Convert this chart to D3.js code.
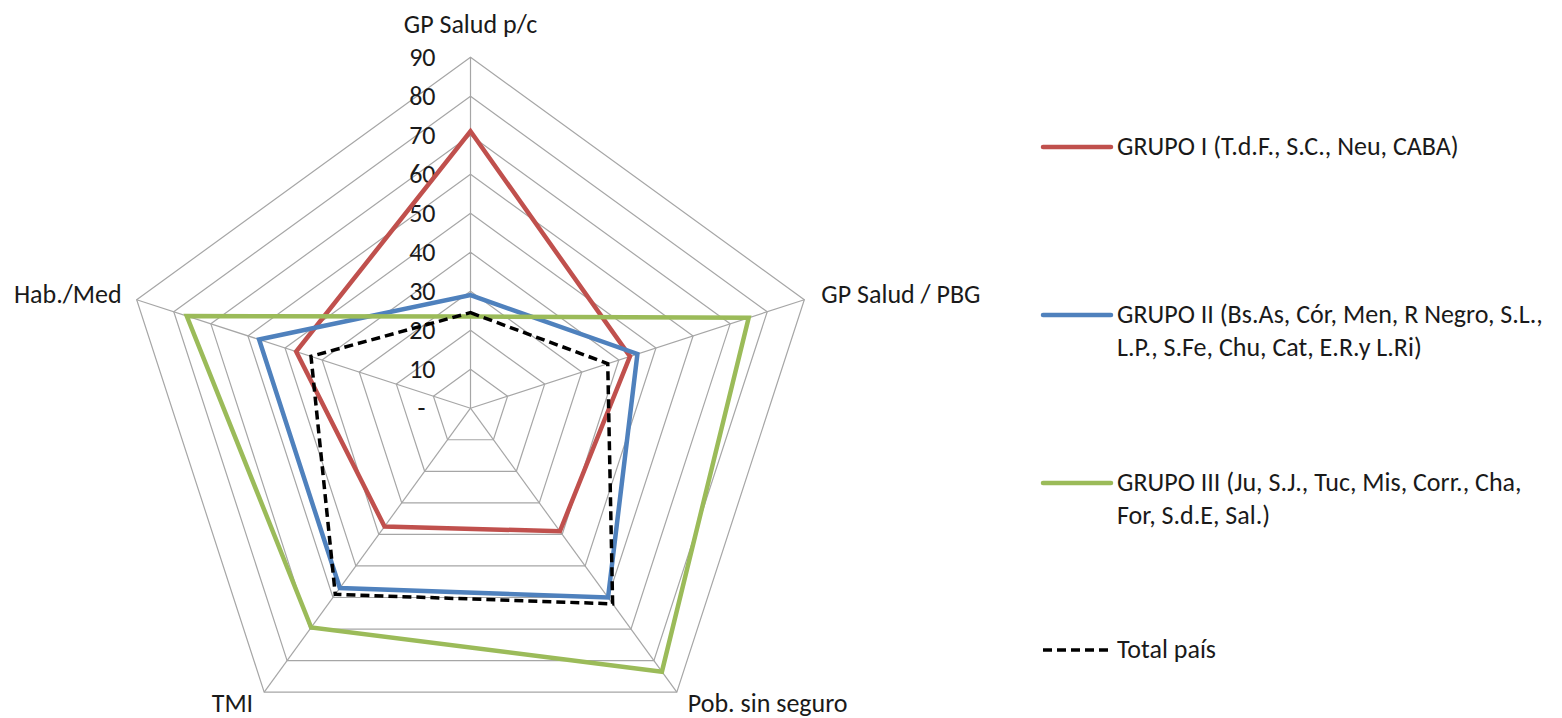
<!DOCTYPE html>
<html>
<head>
<meta charset="utf-8">
<script src="https://cdn.jsdelivr.net/npm/d3@7"></script>
<style>
  body { margin: 0; background: #fff; }
  svg text { font-family: Carlito, Calibri, "Open Sans", sans-serif; fill: #1a1a1a; }
</style>
</head>
<body>
<div id="chart"></div>
<script>
// Axis names (clockwise from top)
const axes = ['GP Salud p/c', 'GP Salud / PBG', 'Pob. sin seguro', 'TMI', 'Hab./Med'];

// Series values, one per axis
const grupoI   = [71, 43, 39, 37.5, 47];
const grupoII  = [29, 45, 60, 57, 57];
const grupoIII = [23.5, 75, 83.5, 69.5, 76.5];
const totalPais = [24.5, 37, 62, 59, 43];

const ticks = [0, 10, 20, 30, 40, 50, 60, 70, 80, 90];
const tickLabels = ['-', '10', '20', '30', '40', '50', '60', '70', '80', '90'];

const seriesNames = [
  ['GRUPO I (T.d.F., S.C., Neu, CABA)'],
  ['GRUPO II (Bs.As, Cór, Men, R Negro, S.L.,', 'L.P., S.Fe, Chu, Cat, E.R.y L.Ri)'],
  ['GRUPO III (Ju, S.J., Tuc, Mis, Corr., Cha,', 'For, S.d.E, Sal.)'],
  ['Total país']
];
const seriesValues = [grupoI, grupoII, grupoIII, totalPais];
const seriesColors = ['#c0504d', '#4f81bd', '#9bbb59', '#000000'];

const width = 1562;
const height = 718;
const cx = 470.5;
const cy = 408.2;
const radius = 351;
const fontSize = '26px';

d3.select('#chart').selectAll('*').remove();

const svg = d3.select('#chart')
  .append('svg')
  .attr('width', width)
  .attr('height', height);

const rScale = d3.scaleLinear()
  .domain([0, 90])
  .range([0, radius]);

const angleScale = d3.scalePoint()
  .domain(axes)
  .range([0, 2 * Math.PI * (axes.length - 1) / axes.length]);

// point on axis a at value v
const pt = (a, v) => {
  const ang = angleScale(a) - Math.PI / 2;
  return [cx + rScale(v) * Math.cos(ang), cy + rScale(v) * Math.sin(ang)];
};

// Grid rings
const grid = svg.append('g').attr('class', 'grid');
ticks.filter(t => t > 0).forEach(t => {
  grid.append('polygon')
    .attr('points', axes.map(a => pt(a, t).join(',')).join(' '))
    .attr('fill', 'none')
    .attr('stroke', '#a6a6a6')
    .attr('stroke-width', 1.2);
});

// Spokes
axes.forEach(a => {
  const [x, y] = pt(a, 90);
  grid.append('line')
    .attr('x1', cx).attr('y1', cy)
    .attr('x2', x).attr('y2', y)
    .attr('stroke', '#a6a6a6')
    .attr('stroke-width', 1.2);
});

// Tick labels on the top axis ("-" for zero sits a bit further left, like accounting format)
svg.append('g')
  .selectAll('text')
  .data(ticks)
  .enter()
  .append('text')
  .attr('x', d => cx - 35 - (d === 0 ? 10 : 0))
  .attr('y', d => cy - rScale(d) + 3)
  .attr('text-anchor', 'end')
  .attr('dominant-baseline', 'middle')
  .style('font-size', fontSize)
  .text((d, i) => tickLabels[i]);

// Axis labels
const labelPos = [
  {dx: 0, dy: -24, anchor: 'middle'},
  {dx: 17, dy: 3, anchor: 'start'},
  {dx: 11, dy: 20, anchor: 'start'},
  {dx: -11, dy: 20, anchor: 'end'},
  {dx: -15, dy: 3, anchor: 'end'}
];
svg.append('g')
  .selectAll('text')
  .data(axes)
  .enter()
  .append('text')
  .attr('x', (d, i) => pt(d, 90)[0] + labelPos[i].dx)
  .attr('y', (d, i) => pt(d, 90)[1] + labelPos[i].dy)
  .attr('text-anchor', (d, i) => labelPos[i].anchor)
  .style('font-size', fontSize)
  .text(d => d);

// Series
const line = d3.line().curve(d3.curveLinearClosed);
seriesValues.forEach((vals, i) => {
  svg.append('path')
    .attr('d', line(axes.map((a, j) => pt(a, vals[j]))))
    .attr('fill', 'none')
    .attr('stroke', seriesColors[i])
    .attr('stroke-width', i === 3 ? 3.5 : 4.5)
    .attr('stroke-dasharray', i === 3 ? '9,5' : null)
    .attr('stroke-linejoin', 'miter');
});

// Legend
const legendY = [147, 315, 483, 650];
const legend = svg.append('g').attr('class', 'legend');
seriesNames.forEach((lines, i) => {
  legend.append('line')
    .attr('x1', 1043).attr('x2', 1111)
    .attr('y1', legendY[i]).attr('y2', legendY[i])
    .attr('stroke', seriesColors[i])
    .attr('stroke-width', i === 3 ? 3.5 : 4.5)
    .attr('stroke-linecap', i === 3 ? 'butt' : 'round')
    .attr('stroke-dasharray', i === 3 ? '9,5' : null);
  const t = legend.append('text')
    .attr('x', 1117)
    .attr('y', legendY[i] + 8)
    .style('font-size', fontSize);
  lines.forEach((s, k) => {
    t.append('tspan')
      .attr('x', 1117)
      .attr('dy', k === 0 ? 0 : 33)
      .text(s);
  });
});
</script>
</body>
</html>
